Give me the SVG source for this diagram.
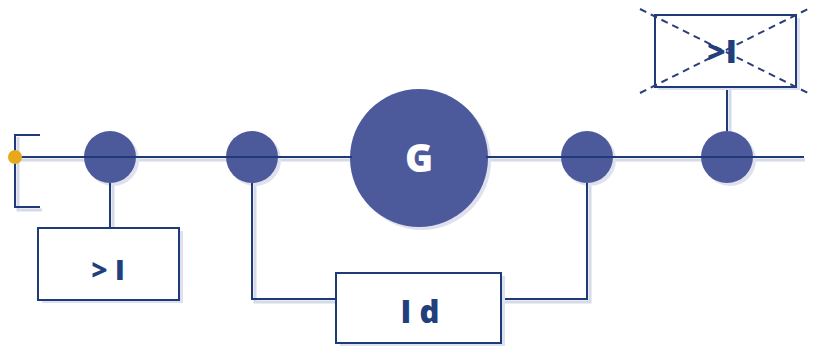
<svg xmlns="http://www.w3.org/2000/svg" width="817" height="346" viewBox="0 0 817 346">
<defs>
<style>
.ln{stroke:#1f3a78;stroke-width:2;fill:none}
.sh{stroke:#d6dae8;stroke-width:3;fill:none}
.node{fill:#4c5a9c}
.nsh{fill:#dfe2ee}
.box{fill:#ffffff;stroke:#1f3a78;stroke-width:2}
.bsh{fill:#dde0ee}
.lbl{font-family:"Open Sans","DejaVu Sans",sans-serif;font-weight:800;fill:#213f7c;text-anchor:middle}
.dash{stroke:#2a3f78;stroke-width:2;stroke-dasharray:7,5;fill:none}
</style>
</defs>
<rect width="817" height="346" fill="#ffffff"/>
<g id="connector-shadows">
<polyline class="sh" points="18,137 18,210 42,210"/>
<line class="sh" x1="15" y1="160" x2="805" y2="160"/>
<line class="sh" x1="113" y1="160" x2="113" y2="228"/>
<polyline class="sh" points="255,160 255,302 337,302"/>
<polyline class="sh" points="501,302 590,302 590,160"/>
<line class="sh" x1="730" y1="88" x2="730" y2="157"/>
</g>
<g id="n1">
<circle class="nsh" cx="113" cy="160" r="26"/>
<circle class="node" cx="110" cy="157" r="26"/>
</g>
<g id="n2">
<circle class="nsh" cx="255" cy="160" r="26"/>
<circle class="node" cx="252" cy="157" r="26"/>
</g>
<g id="gen">
<circle class="nsh" cx="422" cy="161" r="69"/>
<circle class="node" cx="419" cy="158" r="69"/>
<text class="lbl" x="419" y="172" font-size="38" style="fill:#ffffff">G</text>
</g>
<g id="n4">
<circle class="nsh" cx="590" cy="160" r="26"/>
<circle class="node" cx="587" cy="157" r="26"/>
</g>
<g id="n5">
<circle class="nsh" cx="730" cy="160" r="26"/>
<circle class="node" cx="727" cy="157" r="26"/>
</g>
<g id="connectors">
<polyline class="ln" points="40,135 15,135 15,207 40,207"/>
<line class="ln" x1="15" y1="157" x2="352" y2="157"/>
<line class="ln" x1="486" y1="157" x2="804" y2="157"/>
<line class="ln" x1="110" y1="183" x2="110" y2="228"/>
<polyline class="ln" points="252,183 252,299 337,299"/>
<polyline class="ln" points="501,299 587,299 587,183"/>
<line class="ln" x1="727" y1="87" x2="727" y2="131"/>
</g>
<g id="start">
<circle cx="15" cy="157" r="7" fill="#e6a91a"/>
</g>
<g id="box1">
<rect class="bsh" x="42" y="231" width="141" height="72"/>
<rect class="box" x="38" y="228" width="141" height="72"/>
<text class="lbl" x="108" y="280" font-size="28">&gt; I</text>
</g>
<g id="box2">
<rect class="bsh" x="340" y="276" width="165" height="70"/>
<rect class="box" x="336" y="273" width="165" height="70"/>
<text class="lbl" x="420" y="323" font-size="31">I d</text>
</g>
<g id="box3">
<rect class="bsh" x="658" y="18" width="142" height="72"/>
<rect class="box" x="655" y="15" width="141" height="72"/>
<text class="lbl" x="722" y="63" font-size="32">&gt;I</text>
<line class="dash" x1="640" y1="9" x2="808" y2="93"/>
<line class="dash" x1="640" y1="93" x2="808" y2="9"/>
</g>
</svg>
